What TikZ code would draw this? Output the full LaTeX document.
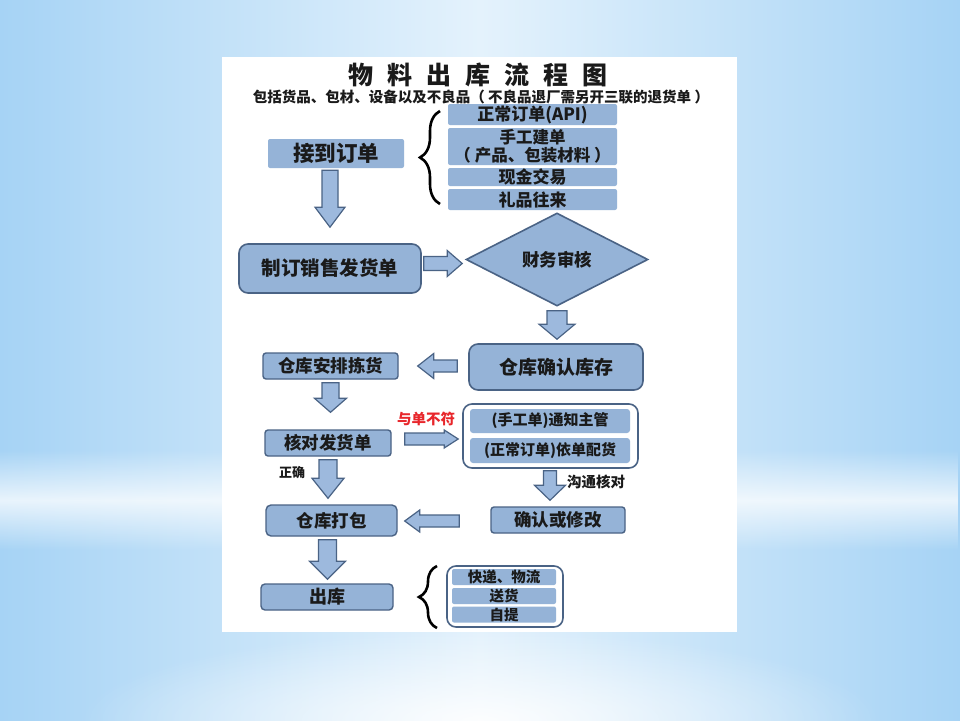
\documentclass[tikz,border=0pt]{standalone}
\usepackage{fontspec}
\setmainfont{Noto Sans CJK SC}
\usetikzlibrary{shapes.geometric,decorations.pathreplacing,calc,fadings}
\definecolor{bgblue}{HTML}{A6D3F5}
\definecolor{bglight}{HTML}{E4F2FC}
\definecolor{boxblue}{HTML}{95B3D7}
\definecolor{edge}{HTML}{4A6385}
\definecolor{arrowblue}{HTML}{9DB9DD}
\definecolor{txt}{HTML}{1A1A1A}
\definecolor{warnred}{HTML}{E8262B}
\newcommand\fsz[1]{\fontsize{#1pt}{#1pt}\selectfont}
\tikzfading[name=bandfade, top color=transparent!100, bottom color=transparent!100, middle color=transparent!25]
\tikzfading[name=radfade, inner color=transparent!10, outer color=transparent!100]
% block arrows between two points (start, end, shaft half width, head half width, head length)
\newcommand\dblk[5]{\path[blk] let \p1=#1, \p2=#2 in
  (\x1-#3,\y1) -- (\x1+#3,\y1) -- (\x1+#3,\y2+#5) -- (\x1+#4,\y2+#5) -- (\x1,\y2)
  -- (\x1-#4,\y2+#5) -- (\x1-#3,\y2+#5) -- cycle;}
\newcommand\rblk[5]{\path[blk] let \p1=#1, \p2=#2 in
  (\x1,\y1-#3) -- (\x2-#5,\y1-#3) -- (\x2-#5,\y1-#4) -- (\x2,\y1)
  -- (\x2-#5,\y1+#4) -- (\x2-#5,\y1+#3) -- (\x1,\y1+#3) -- cycle;}
\newcommand\lblk[5]{\path[blk] let \p1=#1, \p2=#2 in
  (\x1,\y1-#3) -- (\x2+#5,\y1-#3) -- (\x2+#5,\y1-#4) -- (\x2,\y1)
  -- (\x2+#5,\y1+#4) -- (\x2+#5,\y1+#3) -- (\x1,\y1+#3) -- cycle;}
\begin{document}
\begin{tikzpicture}[x=1pt,y=-1pt,
  flat/.style={fill=boxblue, draw=none, rounded corners=2pt, inner sep=0pt, font=\bfseries, text=txt, align=center},
  rbox/.style={fill=boxblue, draw=edge, line width=1.6pt, rounded corners=7pt, inner sep=0pt, font=\bfseries, text=txt},
  sbox/.style={fill=boxblue, draw=edge, line width=1.4pt, rounded corners=3pt, inner sep=0pt, font=\bfseries, text=txt},
  outerbox/.style={fill=white, draw=edge, line width=1.6pt, rounded corners=9pt, inner sep=0pt},
  blk/.style={fill=arrowblue, draw=edge, line width=1.2pt, line join=miter},
  lbl/.style={font=\bfseries, text=txt, inner sep=0pt},
  brc/.style={decorate, decoration={brace, amplitude=#1}, line width=2.6pt, draw=black}]
\useasboundingbox (0,0) rectangle (960,720);
% background
\fill[left color=bgblue, right color=bgblue, middle color=bglight] (0,0) rectangle (960,720);
\fill[white, path fading=bandfade] (0,450) rectangle (960,550);
\fill[white, path fading=radfade] (480,720) ellipse [x radius=400pt, y radius=90pt];
% panel
\fill[white] (222,57) rectangle (737,632);
% titles
\node[lbl] (title) at (478,75) {\fsz{25}物\hspace{14pt}料\hspace{14pt}出\hspace{14pt}库\hspace{14pt}流\hspace{14pt}程\hspace{14pt}图};
\node[lbl] (sub) at (481,97) {\fsz{14.5}包括货品、包材、设备以及不良品（ 不良品退厂需另开三联的退货单 ）};
% order sources
\node[flat, minimum width=136pt, minimum height=29pt] (jd) at (336,153.5) {\fsz{21.5}接到订单};
\node[flat, minimum width=169pt, minimum height=21pt] (l1) at (532.5,114.5) {\fsz{17}正常订单(API)};
\node[flat, minimum width=169pt, minimum height=37pt, font=\bfseries\fontsize{16.5pt}{18pt}\selectfont] (l2) at (532.5,146.5) {手工建单\\（ 产品、包装材料 ）};
\node[flat, minimum width=169pt, minimum height=18pt] (l3) at (532.5,177) {\fsz{17}现金交易};
\node[flat, minimum width=169pt, minimum height=21pt] (l4) at (532.5,199.5) {\fsz{17}礼品往来};
\draw[brc=20pt] (440,204) -- (440,111);
% main flow
\node[rbox, minimum width=182pt, minimum height=49pt, rounded corners=9pt] (zd) at (330,268.5) {\fsz{19.5}制订销售发货单};
\node[diamond, fill=boxblue, draw=edge, line width=1.6pt, minimum width=182pt, minimum height=93pt, inner sep=0pt, font=\bfseries, text=txt] (cw) at (557,259.5) {\fsz{17.5}财务审核};
\node[rbox, minimum width=174pt, minimum height=46pt, rounded corners=9pt] (qr) at (556,367) {\fsz{19}仓库确认库存};
\node[sbox, minimum width=135pt, minimum height=26pt] (ap) at (330.5,366) {\fsz{17.5}仓库安排拣货};
\node[sbox, minimum width=126pt, minimum height=26pt] (hd) at (328,443) {\fsz{17.5}核对发货单};
\node[outerbox, minimum width=175pt, minimum height=64pt] (o1) at (550.5,436) {};
\node[flat, minimum width=160pt, minimum height=24pt, rounded corners=3pt] (n1) at (550,421) {\fsz{15}(手工单)通知主管};
\node[flat, minimum width=160pt, minimum height=25pt, rounded corners=3pt] (n2) at (550,450.5) {\fsz{15}(正常订单)依单配货};
\node[sbox, minimum width=134pt, minimum height=26pt] (qx) at (558,520) {\fsz{17.5}确认或修改};
\node[sbox, minimum width=131pt, minimum height=31pt, rounded corners=5pt] (db) at (331.5,520.5) {\fsz{17.5}仓库打包};
\node[sbox, minimum width=132pt, minimum height=26pt, rounded corners=4pt] (ck) at (327,597) {\fsz{18}出库};
\node[outerbox, minimum width=116pt, minimum height=61pt] (o2) at (505,596.5) {};
\node[flat, minimum width=104pt, minimum height=16pt] (m1) at (504,577) {\fsz{14.5}快递、物流};
\node[flat, minimum width=104pt, minimum height=16pt] (m2) at (504,596) {\fsz{14.5}送货};
\node[flat, minimum width=104pt, minimum height=16pt] (m3) at (504,614.5) {\fsz{14.5}自提};
\draw[brc=18pt] (437,628) -- (437,566);
% labels
\node[lbl, text=warnred] (bf) at (426,419) {\fsz{14.5}与单不符};
\node[lbl] (zq) at (292,473) {\fsz{13}正确};
\node[lbl] (gt) at (596,482) {\fsz{14.5}沟通核对};
% block arrows
\dblk{($(jd.south)+(-6,2)$)}{($(zd.north)+(0,-16)$)}{8pt}{15pt}{20pt}
\rblk{($(zd.east)+(2,-5)$)}{($(cw.west)+(-3,0)$)}{7pt}{13pt}{15pt}
\dblk{($(cw.south)+(0,4)$)}{($(qr.north)+(0,-4)$)}{10pt}{18pt}{15pt}
\lblk{($(qr.west)+(-11,-1)$)}{($(ap.east)+(19,0)$)}{6pt}{12.5pt}{16pt}
\dblk{($(ap.south)+(0,3)$)}{($(hd.north)+(0,-17)$)}{8.5pt}{16pt}{14pt}
\rblk{($(hd.east)+(13,-4)$)}{($(o1.west)+(-4,0)$)}{6pt}{9pt}{14pt}
\dblk{($(hd.south)+(0,3)$)}{($(db.north)+(0,-6)$)}{9pt}{16pt}{20pt}
\dblk{($(o1.south)+(-0.5,2)$)}{($(qx.north)+(0,-6)$)}{6.5pt}{15.5pt}{15pt}
\lblk{($(qx.west)+(-31,1)$)}{($(db.east)+(7,0)$)}{6pt}{11pt}{15pt}
\dblk{($(db.south)+(-4,3)$)}{($(ck.north)+(0,-4)$)}{9pt}{18pt}{18pt}
\end{tikzpicture}
\end{document}
